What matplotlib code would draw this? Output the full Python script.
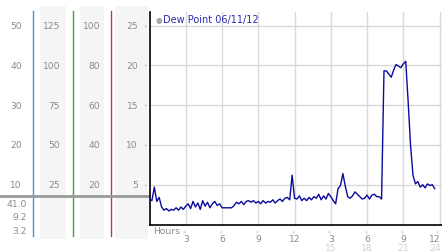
import numpy as np
import matplotlib
matplotlib.use("Agg")
import matplotlib.pyplot as plt
import matplotlib.transforms as mtransforms
from matplotlib.patches import Rectangle
from matplotlib.lines import Line2D

# ---------------- data ----------------
dew_point = [
    3.2, 3.0, 4.7, 2.9, 3.4, 2.2, 1.8, 2.0, 1.7, 1.9,
    1.8, 2.1, 1.8, 2.2, 1.9, 2.3, 2.6, 2.0, 2.9, 2.2,
    2.7, 1.9, 3.0, 2.3, 2.8, 2.1, 2.6, 2.9, 2.4, 2.6,
    2.1, 2.1, 2.1, 2.1, 2.1, 2.4, 2.8, 2.6, 2.9, 2.5,
    2.9, 3.0, 2.8, 3.0, 2.7, 2.9, 2.6, 3.0, 2.7, 2.9,
    2.8, 3.1, 2.7, 3.0, 3.2, 2.9, 3.3, 3.4, 3.1, 6.2,
    3.3, 3.2, 3.6, 3.0, 3.3, 3.0, 3.4, 3.1, 3.5, 3.3,
    3.8, 3.1, 3.6, 3.2, 3.9, 3.5, 3.0, 2.6, 4.5, 4.9,
    6.4, 4.8, 3.5, 3.3, 3.6, 4.1, 3.8, 3.5, 3.2, 3.3,
    3.7, 3.2, 3.7, 3.8, 3.5, 3.5, 3.2, 19.3, 19.3, 18.9,
    18.5, 19.4, 20.1, 19.9, 19.7, 20.2, 20.5, 15.4, 9.9, 6.2,
    5.1, 5.4, 4.7, 5.0, 4.6, 5.1, 4.9, 5.0, 4.5,
]
hours = np.round(np.arange(len(dew_point)) * 0.2, 1)

y_levels = [5, 10, 15, 20, 25]
col1_labels = ["10", "20", "30", "40", "50"]
col2_labels = ["25", "50", "75", "100", "125"]
col3_labels = ["20", "40", "60", "80", "100"]
col4_labels = ["5", "10", "15", "20", "25"]
current_values = ["41.0", "9.2", "3.2"]

x_ticks = [3, 6, 9, 12, 15, 18, 21, 24]
x_labels_top = ["3", "6", "9", "12", "3", "6", "9", "12"]
x_labels_bottom = ["", "", "", "", "15", "18", "21", "24"]
legend_label = "Dew Point 06/11/12"

# ---------------- figure ----------------
W, H = 442, 253
fig = plt.figure(figsize=(W / 100, H / 100), dpi=100)
fig.patch.set_facecolor("white")

def fx(px):
    return px / W

def fy(py):
    return 1 - py / H

TXT = "#8a8a8a"
FS = 6.6

# overlay axes in pixel coordinates for decorations
ov = fig.add_axes([0, 0, 1, 1], zorder=0)
ov.set_xlim(0, W)
ov.set_ylim(H, 0)
ov.axis("off")

# left panel backgrounds
for x0, x1 in [(40, 66), (80, 104), (115, 148)]:
    ov.add_patch(Rectangle((x0, 7), x1 - x0, 233, facecolor="#f5f5f5", edgecolor="none", zorder=0))

# main chart axes
ax = fig.add_axes([fx(149.5), fy(225.5), fx(442 - 149.5), fy(13) - fy(225.5)], zorder=2)
ax.patch.set_alpha(0)
ax.set_xlim(0, 24.2)
ax.set_ylim(0, 26.7)

ax.set_yticks(y_levels)
ax.set_xticks(x_ticks)
ax.grid(True, color="#d9d9d9", linewidth=1.0)
ax.set_axisbelow(True)
ax.tick_params(length=0, labelleft=False, labelbottom=False)
for s in ["top", "right"]:
    ax.spines[s].set_visible(False)
ax.spines["left"].set_color("black")
ax.spines["left"].set_linewidth(1.2)
ax.spines["bottom"].set_color("black")
ax.spines["bottom"].set_linewidth(1.2)

ax.plot(hours, dew_point, color="#0a0a9e", linewidth=1.0, zorder=3)

# legend text
fig.text(fx(158.5), fy(20), "\u25CF", color="#a8a8a8", fontsize=5.5, ha="center", va="center")
fig.text(fx(163), fy(20), legend_label, color="#2a2ab4", fontsize=7.0, ha="left", va="center")

# y labels in panels aligned with main axis data
btr = mtransforms.blended_transform_factory(ov.transData, ax.transData)
for yv, a, b, c, d in zip(y_levels, col1_labels, col2_labels, col3_labels, col4_labels):
    ov.text(22, yv, a, transform=btr, color=TXT, fontsize=FS, ha="right", va="center")
    ov.text(60, yv, b, transform=btr, color=TXT, fontsize=FS, ha="right", va="center")
    ov.text(100, yv, c, transform=btr, color=TXT, fontsize=FS, ha="right", va="center")
    ov.text(138, yv, d, transform=btr, color=TXT, fontsize=FS, ha="right", va="center")
    ov.text(145.5, yv, "\u00BB", transform=btr, color="#b0b0b0", fontsize=4, ha="center", va="center")

# colored vertical lines
for xv, col in [(33, "#3a9bd0"), (73, "#3aa53a"), (111, "#c03a3a")]:
    ov.add_line(Line2D([xv, xv], [12, 237], color=col, linewidth=1.0, zorder=2))

# gray horizontal current-value line
ov.add_line(Line2D([0, 149], [196.5, 196.5], color="#9a9a9a", linewidth=2.0, zorder=3))

for yy, t in zip([204.5, 218, 231.5], current_values):
    ov.text(27, yy, t, color=TXT, fontsize=FS, ha="right", va="center")

# x tick labels
xtr = mtransforms.blended_transform_factory(ax.transData, ov.transData)
ov.text(153, 232, "Hours", color=TXT, fontsize=FS, ha="left", va="center")
for i, (xv, t1, t2) in enumerate(zip(x_ticks, x_labels_top, x_labels_bottom)):
    last = i == len(x_ticks) - 1
    ha = "right" if last else "center"
    xpos = xv + 0.1 if last else xv
    ov.text(xv - 0.1 if last else xv, 231, "\u00BB", transform=xtr, color="#b0b0b0", fontsize=4,
            ha="center", va="center", rotation=90)
    ov.text(xpos, 239.5, t1, transform=xtr, color=TXT, fontsize=FS, ha=ha, va="center")
    if t2:
        ov.text(xpos, 248.5, t2, transform=xtr, color="#d0d0d0", fontsize=FS, ha=ha, va="center")

fig.savefig("out.png", dpi=100, facecolor="white")
